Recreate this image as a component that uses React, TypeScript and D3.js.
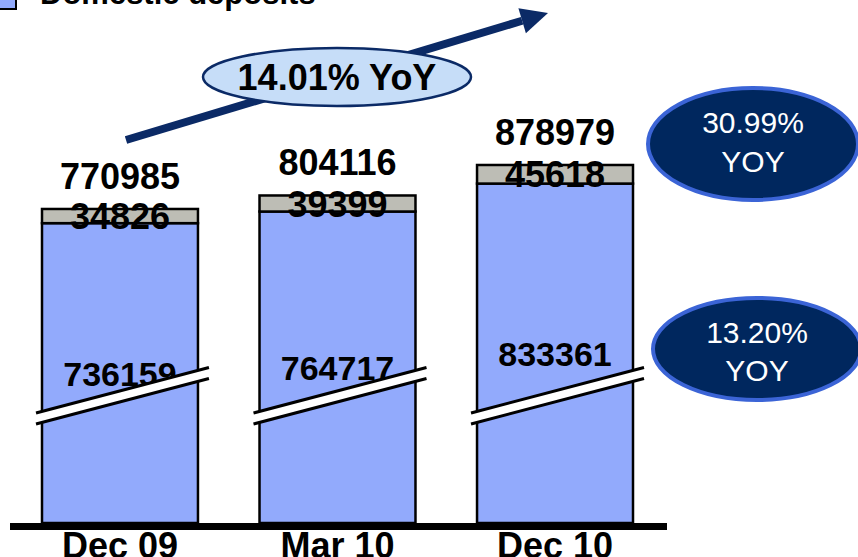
import React, { useEffect } from 'react';
import * as d3 from 'd3';

const categories = ['Dec 09', 'Mar 10', 'Dec 10'];
const domestic = [736159, 764717, 833361];
const other = [34826, 39399, 45618];
const legendLabel = 'Domestic deposits';
const growthLabel = '14.01% YoY';
const badgeValues = ['30.99%', '13.20%'];
const badgeSuffix = 'YOY';

const FONT = '"Liberation Sans", Arial, Helvetica, sans-serif';
const BLUE = '#92aafc';
const GRAY = '#bdbdb5';
const NAVY = '#0b2a66';

export default function App() {
  useEffect(() => {
    document.body.style.margin = '0';
    document.body.style.overflow = 'hidden';
  }, []);
  const W = 858, H = 557;
  const x = d3.scaleBand<string>().domain(categories).range([42, 633]).paddingInner(0.283).paddingOuter(0);
  const y = d3.scaleLinear().domain([0, 1000000]).range([523, 115.7]);
  const bw = x.bandwidth();
  const k = -0.263;
  const bandGap = 11;

  // arrow geometry
  const ax0 = 126, ay0 = 140, ax1 = 548, ay1 = 13;
  const ang = Math.atan2(ay1 - ay0, ax1 - ax0);
  const headLen = 27, headHalf = 13;
  const bxp = ax1 - headLen * Math.cos(ang), byp = ay1 - headLen * Math.sin(ang);
  const nx = -Math.sin(ang), ny = Math.cos(ang);
  const head = [
    [ax1, ay1],
    [bxp + nx * headHalf, byp + ny * headHalf],
    [bxp - nx * headHalf, byp - ny * headHalf],
  ];

  const badges = [
    { cx: 753, cy: 144, rx: 105, ry: 56, t1y: 133, t2y: 172 },
    { cx: 757, cy: 349, rx: 104, ry: 51, t1y: 343, t2y: 381 },
  ];

  return (
    <svg width={W} height={H} style={{ position: 'absolute', left: 0, top: 0, display: 'block' }} fontFamily={FONT}>
      <rect width={W} height={H} fill="#fff" />
      {/* legend */}
      <rect x={-2} y={-8} width={18} height={17} fill={BLUE} stroke="#000" strokeWidth={2} />
      <text x={40} y={4} fontSize={31} fontWeight="bold" fill="#000">{legendLabel}</text>

      {/* arrow */}
      <line x1={ax0} y1={ay0} x2={bxp} y2={byp} stroke={NAVY} strokeWidth={8} />
      <polygon points={head.map(p => p.join(',')).join(' ')} fill={NAVY} />
      <ellipse cx={337} cy={77} rx={134} ry={29} fill="#c6ddf8" stroke={NAVY} strokeWidth={2.5} />
      <text x={337} y={90} textAnchor="middle" fontSize={36} fontWeight="bold" fill="#000">{growthLabel}</text>

      {/* bars */}
      {categories.map((c, i) => {
        const bx = x(c)!;
        const total = domestic[i] + other[i];
        const yTot = y(total), yDom = y(domestic[i]), y0 = y(0);
        return (
          <g key={c}>
            <rect x={bx} y={yDom} width={bw} height={y0 - yDom} fill={BLUE} stroke="#000" strokeWidth={2.5} />
            <rect x={bx} y={yTot} width={bw} height={yDom - yTot} fill={GRAY} stroke="#000" strokeWidth={2.5} />
            <text x={bx + bw / 2} y={yTot - 20} textAnchor="middle" fontSize={36} fontWeight="bold">{d3.format('d')(total)}</text>
            <text x={bx + bw / 2} y={(yTot + yDom) / 2 + 13} textAnchor="middle" fontSize={36} fontWeight="bold">{d3.format('d')(other[i])}</text>
            <text x={bx + bw / 2} y={(yDom + y0) / 2 + 13} textAnchor="middle" fontSize={34} fontWeight="bold">{d3.format('d')(domestic[i])}</text>
          </g>
        );
      })}

      {/* axis break marks */}
      {categories.map((c) => {
        const bx = x(c)!;
        const x0 = bx - 6, x1 = bx + bw + 11;
        const yt0 = 413, yt1 = yt0 + k * (x1 - x0);
        return (
          <g key={'b' + c}>
            <polygon points={`${x0},${yt0} ${x1},${yt1} ${x1},${yt1 + bandGap} ${x0},${yt0 + bandGap}`} fill="#fff" />
            <line x1={x0} y1={yt0} x2={x1} y2={yt1} stroke="#000" strokeWidth={3} />
            <line x1={x0} y1={yt0 + bandGap} x2={x1} y2={yt1 + bandGap} stroke="#000" strokeWidth={3} />
          </g>
        );
      })}

      {/* baseline axis */}
      <line x1={10} x2={667} y1={526.5} y2={526.5} stroke="#000" strokeWidth={7} />
      {categories.map((c) => (
        <text key={'l' + c} x={x(c)! + bw / 2} y={558} textAnchor="middle" fontSize={36} fontWeight="bold">{c}</text>
      ))}

      {/* YoY badges */}
      {badges.map((b, i) => (
        <g key={'yb' + i}>
          <ellipse cx={b.cx} cy={b.cy} rx={b.rx} ry={b.ry} fill="#00275e" stroke="#3b64d6" strokeWidth={4} />
          <text x={b.cx} y={b.t1y} textAnchor="middle" fontSize={30} fill="#fff">{badgeValues[i]}</text>
          <text x={b.cx} y={b.t2y} textAnchor="middle" fontSize={30} fill="#fff">{badgeSuffix}</text>
        </g>
      ))}
    </svg>
  );
}
